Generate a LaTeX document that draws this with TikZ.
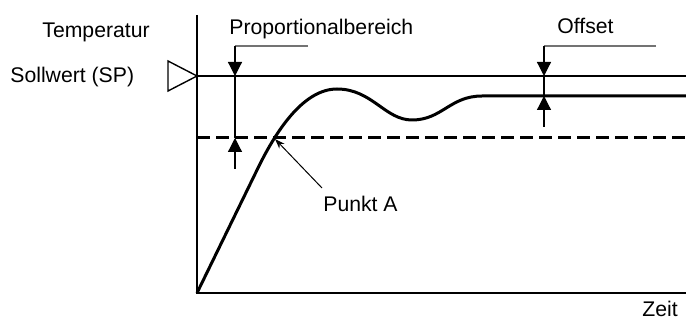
\documentclass[tikz,border=0pt]{standalone}
\usepackage{fontspec}
\setmainfont{Liberation Sans}
\usetikzlibrary{arrows.meta}

\begin{document}
\begin{tikzpicture}[x=0.5pt,y=-0.5pt,
  txt/.style={inner sep=0pt,anchor=base west,font=\fontsize{10.6}{12}\selectfont},
  mass/.style={line width=0.6pt,-{Triangle[width=7pt,length=7pt]}},
  leit/.style={line width=0.9pt,draw=black!55}]

\useasboundingbox (0,0) rectangle (686,320);

% Achsen
\coordinate (O) at (197,293);
\coordinate (ytop) at (197,15);
\coordinate (xend) at (686,293);
\draw[line width=0.9pt] (ytop) -- (O) -- (xend);

\node[txt] (temp) at (42,38) {Temperatur};
\node[txt] (zeit) at (642,317) {Zeit};

% Sollwert
\coordinate (sp) at (197,76);
\coordinate (spend) at (686,76);
\node[txt] (soll) at (10,83) {Sollwert (SP)};
\draw[line width=0.7pt] (sp) -- (168,61) -- (168,91) -- cycle;
\draw[line width=0.9pt] (sp) -- (spend);

% Untergrenze Proportionalbereich
\coordinate (pb) at (197,138);
\coordinate (pbend) at (686,138);
\draw[line width=1.5pt,dash pattern=on 6.5pt off 3pt] (pb) -- (pbend);

% Regelverlauf
\draw[line width=1.5pt] (O) -- (258,168)
  .. controls (278,127) and (305,89) .. (337,89)
  .. controls (372,89) and (385,120) .. (412,120)
  .. controls (442,120) and (450,96) .. (482,96)
  -- (686,96);

% Proportionalbereich
\node[txt] (prop) at (229,35) {Proportionalbereich};
\coordinate (p1) at (308,46);
\coordinate (p2) at (235,46);
\coordinate (p3) at (235,76);
\coordinate (p4) at (235,138);
\coordinate (p5) at (235,169);
\draw[leit] (p1) -- (p2);
\draw[mass] (p2) -- (p3);
\draw[line width=0.6pt] (p3) -- (p4);
\draw[mass] (p5) -- (p4);

% Offset
\node[txt] (off) at (557,34) {Offset};
\coordinate (o1) at (656,46);
\coordinate (o2) at (544,46);
\coordinate (o3) at (544,76);
\coordinate (o4) at (544,96);
\coordinate (o5) at (544,127);
\draw[leit] (o1) -- (o2);
\draw[mass] (o2) -- (o3);
\draw[line width=0.6pt] (o3) -- (o4);
\draw[mass] (o5) -- (o4);

% Punkt A
\node[txt] (punktA) at (323,212) {Punkt A};
\coordinate (a0) at (322,188);
\coordinate (a1) at (275,139);
\draw[line width=0.5pt,-{Stealth[length=5pt,width=3.5pt]}] (a0) -- (a1);

\end{tikzpicture}
\end{document}
